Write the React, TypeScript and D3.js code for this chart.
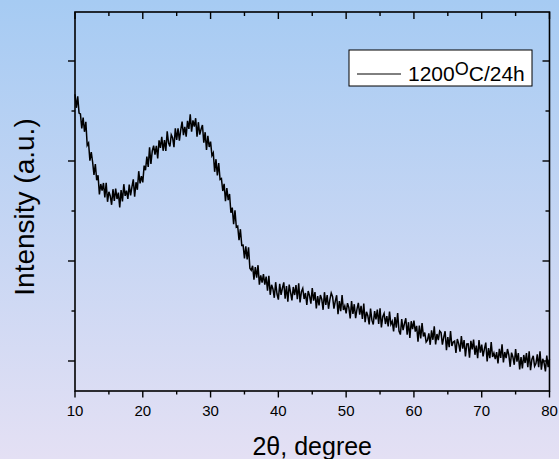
import React from "react";
import * as d3 from "d3";

const thetaStart = 10;
const thetaStep = 0.2;
const intensity = [
  1834, 1766, 1823, 1740, 1735, 1663, 1717, 1646, 1696, 1578,
  1590, 1502, 1544, 1495, 1431, 1485, 1404, 1429, 1333, 1385,
  1352, 1390, 1318, 1391, 1296, 1346, 1325, 1281, 1359, 1300,
  1362, 1310, 1342, 1268, 1355, 1298, 1384, 1326, 1352, 1310,
  1382, 1328, 1371, 1408, 1321, 1394, 1356, 1449, 1388, 1424,
  1393, 1477, 1454, 1522, 1470, 1568, 1485, 1550, 1577, 1532,
  1576, 1513, 1603, 1566, 1621, 1551, 1605, 1550, 1648, 1591,
  1573, 1631, 1616, 1569, 1663, 1606, 1663, 1602, 1656, 1697,
  1629, 1671, 1622, 1701, 1660, 1734, 1647, 1703, 1672, 1714,
  1622, 1694, 1632, 1659, 1680, 1592, 1644, 1555, 1626, 1570,
  1597, 1527, 1541, 1446, 1509, 1428, 1490, 1408, 1412, 1350,
  1386, 1299, 1365, 1304, 1335, 1241, 1267, 1184, 1254, 1169,
  1174, 1104, 1159, 1078, 1079, 1013, 1073, 1008, 1068, 964,
  954, 976, 907, 970, 917, 979, 882, 928, 892, 934,
  882, 922, 852, 926, 831, 881, 860, 816, 894, 835,
  807, 886, 831, 865, 893, 812, 875, 797, 882, 843,
  803, 870, 830, 880, 809, 888, 793, 846, 863, 810,
  840, 780, 850, 827, 787, 865, 802, 845, 763, 825,
  778, 830, 809, 756, 844, 781, 830, 761, 807, 840,
  822, 762, 799, 829, 734, 799, 749, 830, 755, 775,
  738, 789, 767, 713, 800, 736, 784, 714, 759, 791,
  732, 776, 710, 787, 694, 746, 726, 683, 762, 704,
  683, 749, 708, 757, 685, 763, 668, 721, 738, 685,
  724, 673, 747, 683, 699, 648, 720, 667, 740, 650,
  632, 710, 654, 687, 714, 632, 694, 615, 699, 659,
  702, 647, 676, 597, 677, 613, 690, 623, 642, 595,
  604, 638, 581, 653, 606, 674, 583, 635, 604, 650,
  642, 582, 619, 649, 554, 619, 569, 650, 575, 595,
  600, 540, 610, 587, 547, 625, 562, 605, 523, 585,
  586, 517, 601, 558, 607, 531, 577, 514, 605, 542,
  582, 523, 561, 592, 498, 564, 514, 595, 520, 540,
  509, 544, 488, 561, 515, 584, 493, 545, 514, 560,
  530, 471, 542, 520, 481, 560, 497, 540, 458, 520,
  463, 530, 490, 540, 469, 548, 454, 508, 526, 474,
  487, 533, 469, 548, 457, 511, 491, 448, 527, 469,
  509,
];

const xMajorTicks = [10, 20, 30, 40, 50, 60, 70, 80];
const xMinorTicks = [15, 25, 35, 45, 55, 65, 75];
const yMajorTicks = [500, 1000, 1500, 2000];
const yMinorTicks = [750, 1250, 1750];
const legendLabel = "1200";
const legendSup = "O";
const legendRest = "C/24h";
const xTitle = "2\u03b8, degree";
const yTitle = "Intensity (a.u.)";

export default function App() {
  const W = 559;
  const H = 459;
  const left = 75;
  const right = 549.5;
  const top = 12;
  const bottom = 391;

  const x = d3.scaleLinear().domain([10, 80]).range([left, right]);
  const y = d3.scaleLinear().domain([350, 2245]).range([bottom, top]);

  const data = intensity.map((v, i) => ({ t: thetaStart + i * thetaStep, v }));
  const line = d3
    .line<{ t: number; v: number }>()
    .x((d) => x(d.t))
    .y((d) => y(d.v));

  const font = "Arial, 'Liberation Sans', Helvetica, sans-serif";

  return (
    <div style={{ position: "fixed", left: 0, top: 0 }}>
      <style>{`body{margin:0}`}</style>
      <svg width={W} height={H} style={{ display: "block" }}>
        <defs>
          <linearGradient id="bg" x1="0" y1="0" x2="0" y2="1">
            <stop offset="0" stopColor="#a6cbf3" />
            <stop offset="1" stopColor="#e4e0f4" />
          </linearGradient>
        </defs>
        <rect x={0} y={0} width={W} height={H} fill="url(#bg)" />

        <path d={line(data) || ""} fill="none" stroke="#000" strokeWidth={1.5} strokeLinejoin="miter" />

        <rect x={left} y={top} width={right - left} height={bottom - top} fill="none" stroke="#000" strokeWidth={1.6} />

        {xMajorTicks.map((t) => (
          <line key={"bM" + t} x1={x(t)} x2={x(t)} y1={bottom} y2={bottom + 6.5} stroke="#000" strokeWidth={1.4} />
        ))}
        {xMinorTicks.map((t) => (
          <line key={"bm" + t} x1={x(t)} x2={x(t)} y1={bottom} y2={bottom + 3.5} stroke="#000" strokeWidth={1.4} />
        ))}
        {xMajorTicks.map((t) => (
          <line key={"tM" + t} x1={x(t)} x2={x(t)} y1={top} y2={top + 7} stroke="#000" strokeWidth={1.4} />
        ))}
        {xMinorTicks.map((t) => (
          <line key={"tm" + t} x1={x(t)} x2={x(t)} y1={top} y2={top + 4} stroke="#000" strokeWidth={1.4} />
        ))}
        {yMajorTicks.map((t) => (
          <line key={"lM" + t} x1={left - 7} x2={left} y1={y(t)} y2={y(t)} stroke="#000" strokeWidth={1.4} />
        ))}
        {yMinorTicks.map((t) => (
          <line key={"lm" + t} x1={left - 3.5} x2={left} y1={y(t)} y2={y(t)} stroke="#000" strokeWidth={1.4} />
        ))}
        {yMajorTicks.map((t) => (
          <line key={"rM" + t} x1={right - 7} x2={right} y1={y(t)} y2={y(t)} stroke="#000" strokeWidth={1.4} />
        ))}
        {yMinorTicks.map((t) => (
          <line key={"rm" + t} x1={right - 4} x2={right} y1={y(t)} y2={y(t)} stroke="#000" strokeWidth={1.4} />
        ))}

        {xMajorTicks.map((t) => (
          <text key={"lab" + t} x={x(t)} y={416} textAnchor="middle" fontFamily={font} fontSize={15} fill="#000">
            {t}
          </text>
        ))}

        <text x={(left + right) / 2} y={455} textAnchor="middle" fontFamily={font} fontSize={25} fill="#000">
          {xTitle}
        </text>
        <text
          transform={`translate(34, 207) rotate(-90)`}
          textAnchor="middle"
          fontFamily={font}
          fontSize={28}
          fill="#000"
        >
          {yTitle}
        </text>

        <rect x={349} y={50} width={183} height={36} fill="#fff" stroke="#000" strokeWidth={1} />
        <line x1={357} x2={401} y1={74} y2={74} stroke="#000" strokeWidth={1} />
        <text x={408} y={81} fontFamily={font} fontSize={21} fill="#000">
          {legendLabel}
          <tspan dy={-6} fontSize={18}>{legendSup}</tspan>
          <tspan dy={6}>{legendRest}</tspan>
        </text>
      </svg>
    </div>
  );
}
